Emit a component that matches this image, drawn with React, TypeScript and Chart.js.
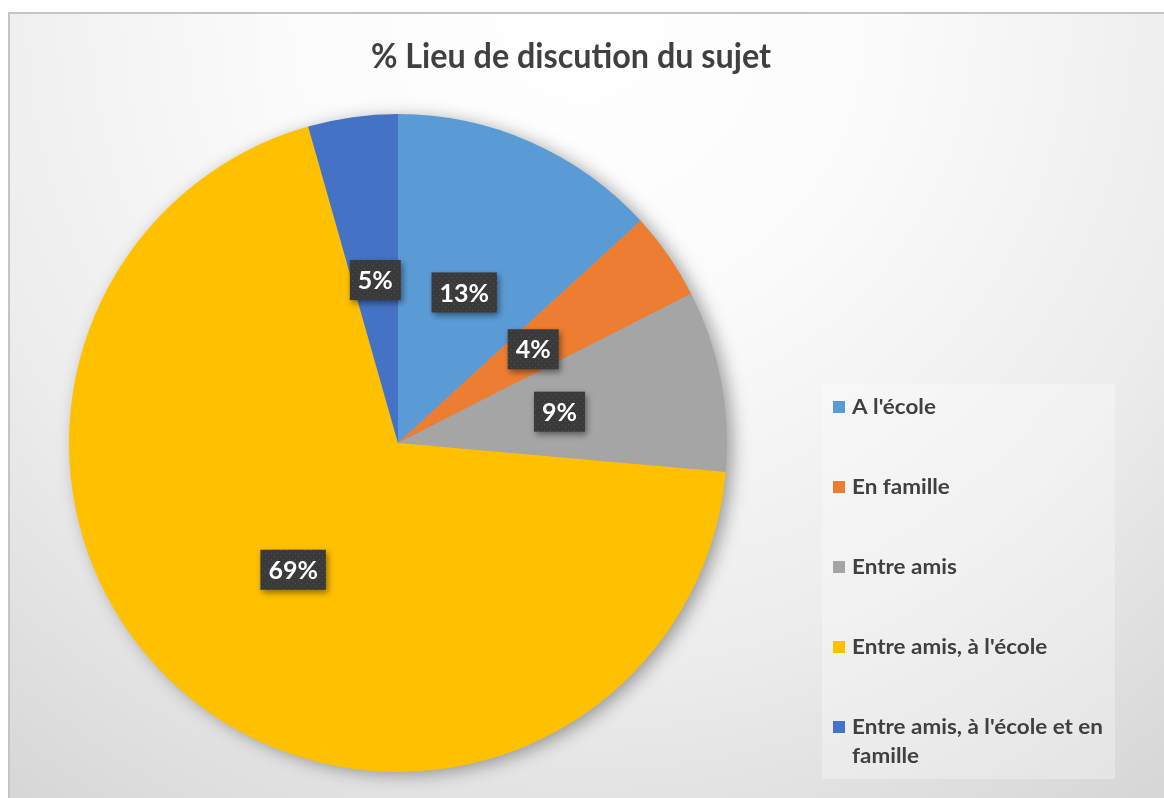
import React, { useEffect, useRef } from "react";
import { Chart, registerables } from "chart.js";

Chart.register(...registerables);

const chartTitle = "% Lieu de discution du sujet";
const categories = [
  "A l'école",
  "En famille",
  "Entre amis",
  "Entre amis, à l'école",
  "Entre amis, à l'école et en famille",
];
const shares = [13.2, 4.3, 8.9, 69.2, 4.4];
const shareLabels = ["13%", "4%", "9%", "69%", "5%"];
const sliceColors = ["#5B9BD5", "#ED7D31", "#A5A5A5", "#FFC000", "#4472C4"];

const W = 1164;
const H = 798;
const FONT = "Lato, 'Open Sans', sans-serif";
const TEXT_COLOR = "#404040";

function makeDotPattern(ctx: CanvasRenderingContext2D) {
  const c = document.createElement("canvas");
  c.width = 6;
  c.height = 6;
  const p = c.getContext("2d")!;
  p.fillStyle = "#3a3a3a";
  p.fillRect(0, 0, 6, 6);
  p.fillStyle = "#505050";
  p.fillRect(1, 1, 1, 1);
  p.fillRect(4, 4, 1, 1);
  return ctx.createPattern(c, "repeat") || "#3a3a3a";
}

const backgroundPlugin = {
  id: "bgFrame",
  beforeDraw(chart: any) {
    const ctx: CanvasRenderingContext2D = chart.ctx;
    ctx.save();
    ctx.fillStyle = "#ffffff";
    ctx.fillRect(0, 0, W, H);
    const g = ctx.createRadialGradient(580, 20, 0, 580, 20, 1000);
    g.addColorStop(0, "#ffffff");
    g.addColorStop(0.3, "#fbfbfb");
    g.addColorStop(0.65, "#ececec");
    g.addColorStop(1, "#d4d4d4");
    ctx.fillStyle = g;
    ctx.fillRect(9, 13, W - 9, H - 13);
    ctx.strokeStyle = "#c4c4c4";
    ctx.lineWidth = 2;
    ctx.beginPath();
    ctx.moveTo(9, H);
    ctx.lineTo(9, 13);
    ctx.lineTo(W, 13);
    ctx.stroke();
    // legend panel
    ctx.fillStyle = "rgba(255,255,255,0.3)";
    ctx.fillRect(822, 384, 293, 395);
    // title
    ctx.fillStyle = TEXT_COLOR;
    ctx.font = `bold 35px ${FONT}`;
    ctx.textAlign = "center";
    ctx.textBaseline = "alphabetic";
    const tw = ctx.measureText(chartTitle).width;
    const sx = Math.min(1, 400 / tw);
    ctx.translate(571, 68);
    ctx.scale(sx, 1);
    ctx.fillText(chartTitle, 0, 0);
    ctx.restore();
  },
};

const shadowPlugin = {
  id: "pieShadow",
  beforeDatasetsDraw(chart: any) {
    const meta = chart.getDatasetMeta(0);
    const arc = meta.data[0];
    if (!arc) return;
    const ctx: CanvasRenderingContext2D = chart.ctx;
    ctx.save();
    ctx.shadowColor = "rgba(0,0,0,0.38)";
    ctx.shadowBlur = 18;
    ctx.shadowOffsetX = 6;
    ctx.shadowOffsetY = 3;
    ctx.fillStyle = "#a5a5a5";
    ctx.beginPath();
    ctx.arc(arc.x, arc.y, arc.outerRadius - 1, 0, Math.PI * 2);
    ctx.fill();
    ctx.restore();
  },
};

const labelPlugin = {
  id: "sliceLabels",
  afterDatasetsDraw(chart: any) {
    const ctx: CanvasRenderingContext2D = chart.ctx;
    const meta = chart.getDatasetMeta(0);
    const pattern = makeDotPattern(ctx);
    ctx.save();
    ctx.font = `bold 25px ${FONT}`;
    ctx.textAlign = "center";
    ctx.textBaseline = "middle";
    meta.data.forEach((arc: any, i: number) => {
      const pos = arc.tooltipPosition(false);
      const text = shareLabels[i];
      const tw = ctx.measureText(text).width;
      const bw = tw + 16;
      const bh = 40;
      ctx.save();
      ctx.shadowColor = "rgba(0,0,0,0.45)";
      ctx.shadowBlur = 6;
      ctx.shadowOffsetX = 2;
      ctx.shadowOffsetY = 3;
      ctx.fillStyle = pattern as any;
      ctx.fillRect(pos.x - bw / 2, pos.y - bh / 2, bw, bh);
      ctx.restore();
      ctx.fillStyle = "#ffffff";
      ctx.fillText(text, pos.x, pos.y + 1);
    });
    ctx.restore();
  },
};

const legendPlugin = {
  id: "sideLegend",
  afterDraw(chart: any) {
    const ctx: CanvasRenderingContext2D = chart.ctx;
    const labels: string[] = chart.data.labels;
    const colors: string[] = chart.data.datasets[0].backgroundColor;
    ctx.save();
    ctx.font = `bold 21px ${FONT}`;
    ctx.textBaseline = "middle";
    ctx.textAlign = "left";
    const ref = ctx.measureText("Entre amis, à l'école et en").width;
    const sx = Math.min(1.08, 251 / ref);
    const maxW = 262 / sx;
    const x0 = 833;
    const tx = 852;
    let y = 407;
    labels.forEach((lab, i) => {
      ctx.fillStyle = colors[i];
      ctx.fillRect(x0, y - 6, 12, 12);
      const words = lab.split(" ");
      const lines: string[] = [];
      let cur = "";
      words.forEach((w) => {
        const test = cur ? cur + " " + w : w;
        if (ctx.measureText(test).width > maxW && cur) {
          lines.push(cur);
          cur = w;
        } else cur = test;
      });
      if (cur) lines.push(cur);
      ctx.fillStyle = TEXT_COLOR;
      lines.forEach((ln, k) => {
        ctx.save();
        ctx.translate(tx, y + k * 29);
        ctx.scale(sx, 1);
        ctx.fillText(ln, 0, 0);
        ctx.restore();
      });
      y += 80;
    });
    ctx.restore();
  },
};

export default function App() {
  const ref = useRef<HTMLCanvasElement | null>(null);
  useEffect(() => {
    if (!ref.current) return;
    const chart = new Chart(ref.current, {
      type: "pie",
      data: {
        labels: categories,
        datasets: [
          {
            data: shares,
            backgroundColor: sliceColors,
            borderWidth: 0,
          },
        ],
      },
      options: {
        responsive: false,
        animation: false,
        devicePixelRatio: 1,
        layout: { padding: { left: 69, right: W - 727, top: 114, bottom: H - 772 } },
        plugins: {
          legend: { display: false },
          title: { display: false },
          tooltip: { enabled: false },
        },
      },
      plugins: [backgroundPlugin, shadowPlugin, labelPlugin, legendPlugin],
    } as any);
    return () => chart.destroy();
  }, []);
  return (
    <div style={{ position: "absolute", left: 0, top: 0, width: W, height: H, overflow: "hidden" }}>
      <canvas ref={ref} width={W} height={H} style={{ display: "block", width: W, height: H }} />
    </div>
  );
}
